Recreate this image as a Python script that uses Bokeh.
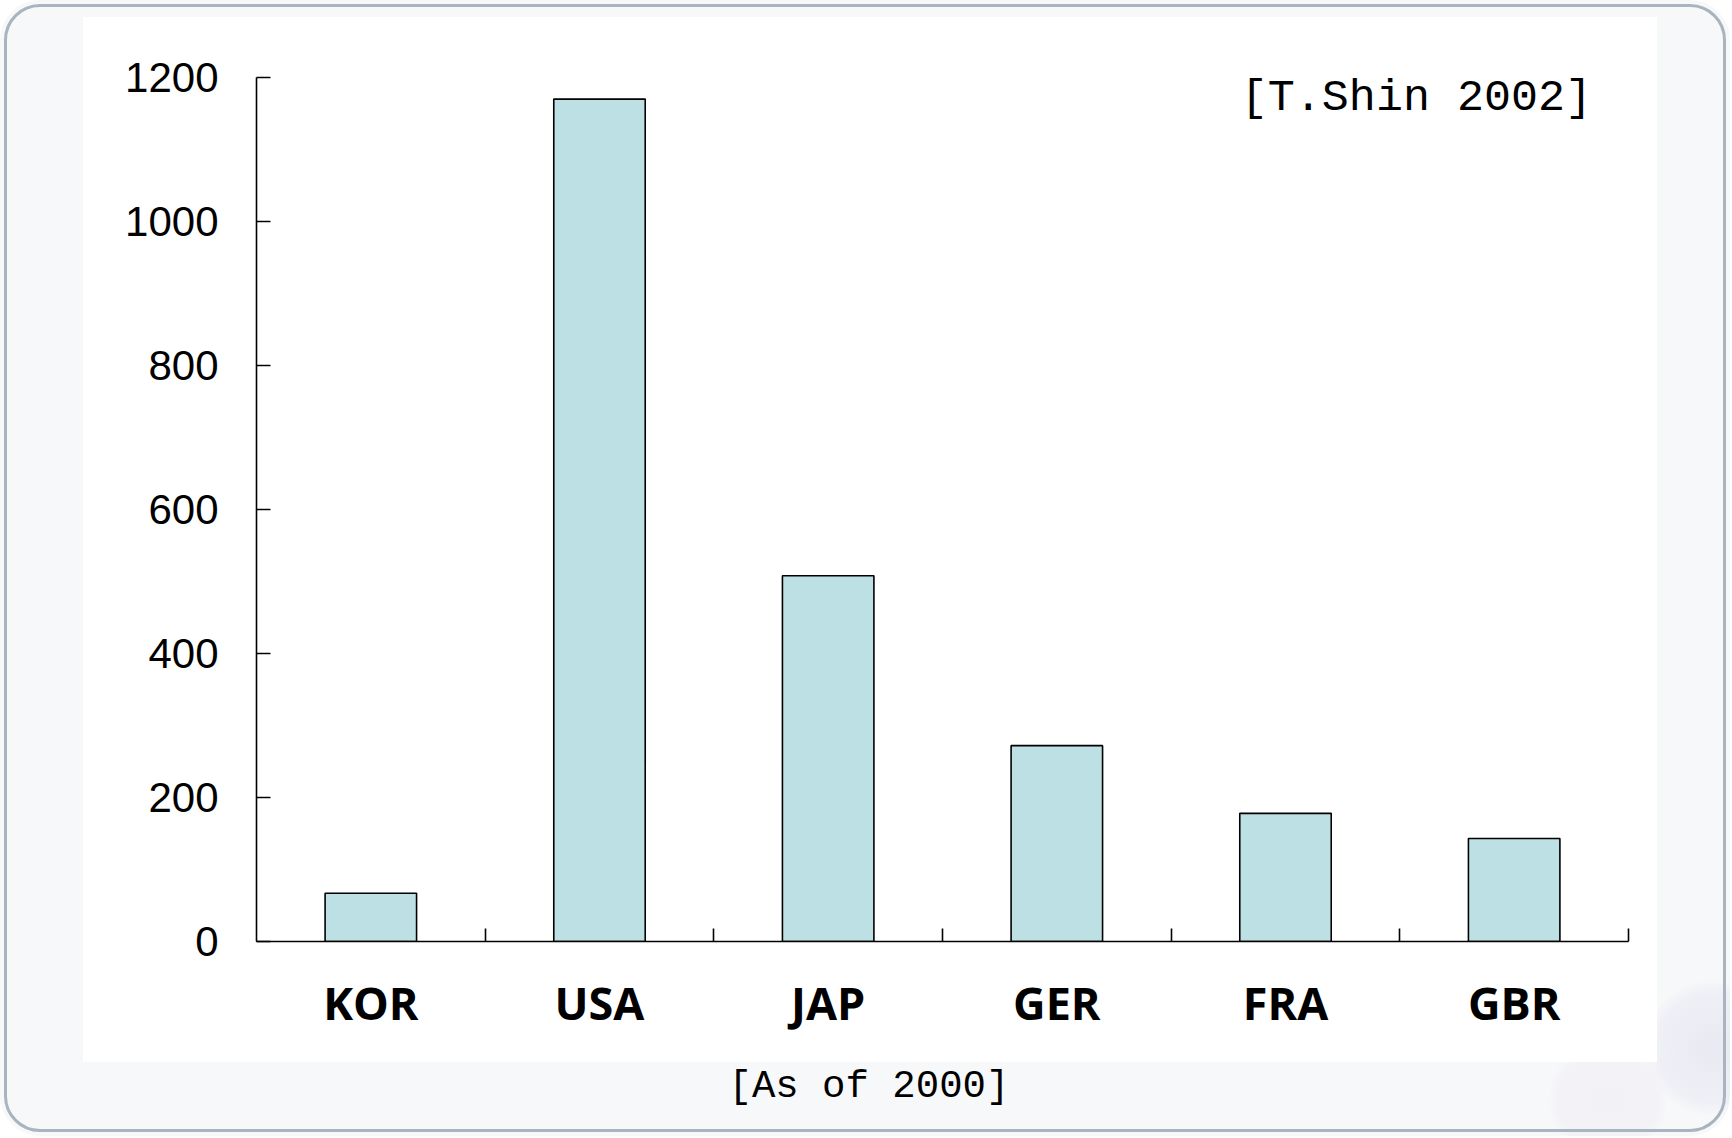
import numpy as np
from bokeh.plotting import figure
from bokeh.models import Range1d, FixedTicker, Label, Title
from bokeh.embed import file_html
from bokeh.resources import INLINE

# ---- data ----
categories = ["KOR", "USA", "JAP", "GER", "FRA", "GBR"]
values = [67, 1170, 508, 272, 178, 143]
y_ticks = [0, 200, 400, 600, 800, 1000, 1200]
source_note = "[T.Shin 2002]"
caption = "[As of 2000]"

n = len(categories)
centers = [i + 0.5 for i in range(n)]
boundaries = [float(i + 1) for i in range(n)]

p = figure(width=1730, height=1136, output_backend="svg", toolbar_location=None, tools="",
           x_range=Range1d(0, n), y_range=Range1d(0, 1200),
           min_border_left=256, min_border_right=102, min_border_top=77, min_border_bottom=195)

# decorative rounded frame, light grey surround and white panel via CSS
p.styles = {
    "outline": "3px solid #a9b4bf",
    "outline-offset": "-7px",
    "border-radius": "40px",
    "background": "linear-gradient(#ffffff, #ffffff) 83px 17px / 1574px 1045px no-repeat, "
                  "radial-gradient(circle at 1712px 1048px, #e9e9f3 0px, #efeff6 55px, rgba(247,248,249,0) 68px), "
                  "radial-gradient(circle at 1608px 1100px, #f1f1f6 0px, #f3f3f7 50px, rgba(247,248,249,0) 60px), "
                  "#f7f8f9",
}
p.border_fill_color = None
p.background_fill_color = "white"
p.outline_line_color = None
p.xgrid.grid_line_color = None
p.ygrid.grid_line_color = None

# bars
p.vbar(x=centers, top=values, bottom=0, width=0.4,
       fill_color="#bce0e3", line_color="black", line_width=1.6)

# y axis
ya = p.yaxis[0]
ya.ticker = FixedTicker(ticks=y_ticks)
ya.axis_line_color = "black"
ya.axis_line_width = 1.6
ya.major_tick_in = 14
ya.major_tick_out = 0
ya.major_tick_line_color = "black"
ya.major_tick_line_width = 1.6
ya.minor_tick_line_color = None
ya.major_label_text_font = "Liberation Sans"
ya.major_label_text_font_size = "42px"
ya.major_label_text_color = "black"
ya.major_label_standoff = 38

# x axis
xa = p.xaxis[0]
xa.ticker = FixedTicker(ticks=centers, minor_ticks=boundaries)
xa.major_label_overrides = {c: cat for c, cat in zip(centers, categories)}
xa.axis_line_color = "black"
xa.axis_line_width = 1.6
xa.major_tick_line_color = None
xa.major_tick_in = 0
xa.major_tick_out = 0
xa.minor_tick_line_color = "black"
xa.minor_tick_line_width = 1.6
xa.minor_tick_in = 13
xa.minor_tick_out = 0
xa.major_label_text_font = "Open Sans"
xa.major_label_text_font_style = "bold"
xa.major_label_text_font_size = "45px"
xa.major_label_text_color = "black"
xa.major_label_standoff = 30

# texts
p.add_layout(Label(x=5.84, y=1171, text=source_note, text_align="right",
                   text_baseline="middle", text_font="Liberation Mono",
                   text_font_size="45px", text_color="black"))
p.add_layout(Title(text=caption, align="left", offset=472, standoff=54,
                   vertical_align="bottom",
                   text_font="Liberation Mono", text_font_size="39px",
                   text_font_style="normal", text_color="black"), "below")

open("out.html", "w").write(file_html(p, INLINE))
